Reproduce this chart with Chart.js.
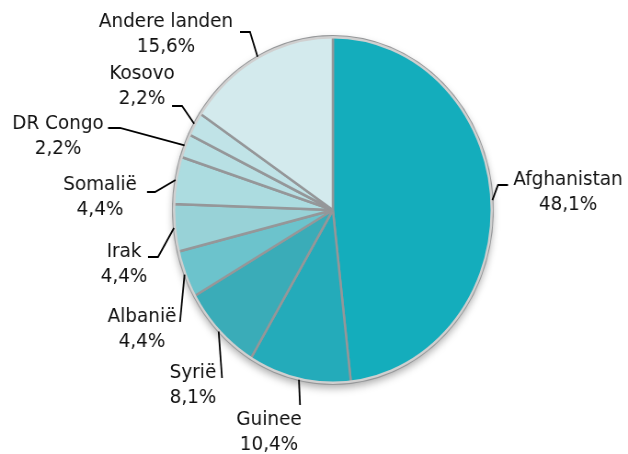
<!DOCTYPE html>
<html><head><meta charset="utf-8">
<script src="https://cdn.jsdelivr.net/npm/chart.js@4"></script>
<style>
html,body{margin:0;padding:0;background:#fff;overflow:hidden}
#wrap{width:683px;height:454px;transform:scaleX(0.9195);transform-origin:0 0}
canvas{display:block}
</style></head><body>
<div id="wrap"><canvas id="c" width="683" height="454"></canvas></div>
<script>
const categories = ['Afghanistan','Guinee','Syrië','Albanië','Irak','Somalië','DR Congo','Kosovo','Andere landen'];
const shares = [48.1, 10.4, 8.1, 4.4, 4.4, 4.4, 2.2, 2.2, 15.6];
const valueLabels = ['48,1%','10,4%','8,1%','4,4%','4,4%','4,4%','2,2%','2,2%','15,6%'];
const sliceColors = ['#14adbc','#24abba','#3aacb8','#6cc3cc','#98d2d7','#acdce0','#b8e0e4','#c0e3e7','#d3eaed'];

// label layout (screen px): text centre, then leader line points after the arc anchor
const S = 0.9195;
const labelLayout = [
  {tx:568, ty:180, pts:[[498,185],[508,185]]},
  {tx:269, ty:420, pts:[[300,405]]},
  {tx:193, ty:373, pts:[[222,378]]},
  {tx:142, ty:317, pts:[[180,322]]},
  {tx:124, ty:252, pts:[[158,257],[148,257]]},
  {tx:100, ty:185, pts:[[155,192],[147,192]]},
  {tx:58,  ty:124, pts:[[120,128],[108,128]]},
  {tx:142, ty:74,  pts:[[182,106],[172,106]]},
  {tx:166, ty:22,  pts:[[250,32],[240,32]]}
];

const shadowPlugin = {
  id:'shadowPlugin',
  beforeDatasetsDraw(chart){
    const el = chart.getDatasetMeta(0).data[0];
    if(!el) return;
    const ctx = chart.ctx;
    ctx.save();
    ctx.shadowColor = 'rgba(0,0,0,0.35)';
    ctx.shadowBlur = 8;
    ctx.shadowOffsetY = 4;
    ctx.fillStyle = '#ddd';
    ctx.beginPath();
    ctx.arc(el.x, el.y, el.outerRadius, 0, Math.PI*2);
    ctx.fill();
    ctx.restore();
  },
  afterDatasetsDraw(chart){
    const el = chart.getDatasetMeta(0).data[0];
    const ctx = chart.ctx;
    ctx.save();
    ctx.strokeStyle = '#d0d0d0';
    ctx.lineWidth = 2.5;
    ctx.beginPath();
    ctx.arc(el.x, el.y, el.outerRadius-1, 0, Math.PI*2);
    ctx.stroke();
    ctx.restore();
  }
};

const labelPlugin = {
  id:'labelPlugin',
  afterDraw(chart){
    const ctx = chart.ctx;
    const meta = chart.getDatasetMeta(0);
    ctx.save();
    meta.data.forEach((arc,i)=>{
      const L = labelLayout[i];
      const a = (arc.startAngle + arc.endAngle)/2;
      const ax = arc.x + Math.cos(a)*arc.outerRadius;
      const ay = arc.y + Math.sin(a)*arc.outerRadius;
      ctx.strokeStyle = '#000';
      ctx.lineWidth = 1.8;
      ctx.beginPath();
      ctx.moveTo(ax, ay);
      L.pts.forEach(p=>ctx.lineTo(p[0]/S, p[1]));
      ctx.stroke();
      ctx.fillStyle = '#111';
      ctx.font = '20px "DejaVu Sans"';
      ctx.textAlign = 'center';
      ctx.textBaseline = 'middle';
      ctx.fillText(categories[i], L.tx/S, L.ty);
      ctx.fillText(valueLabels[i], L.tx/S, L.ty+25);
    });
    ctx.restore();
  }
};

new Chart(document.getElementById('c'), {
  type:'pie',
  data:{
    labels: categories,
    datasets:[{
      data: shares,
      backgroundColor: sliceColors,
      borderColor:'#959799',
      borderWidth:2.5
    }]
  },
  options:{
    responsive:false,
    animation:false,
    layout:{padding:{top:35,bottom:69,left:187,right:146}},
    plugins:{legend:{display:false},tooltip:{enabled:false}}
  },
  plugins:[shadowPlugin,labelPlugin]
});
</script>
</body></html>
